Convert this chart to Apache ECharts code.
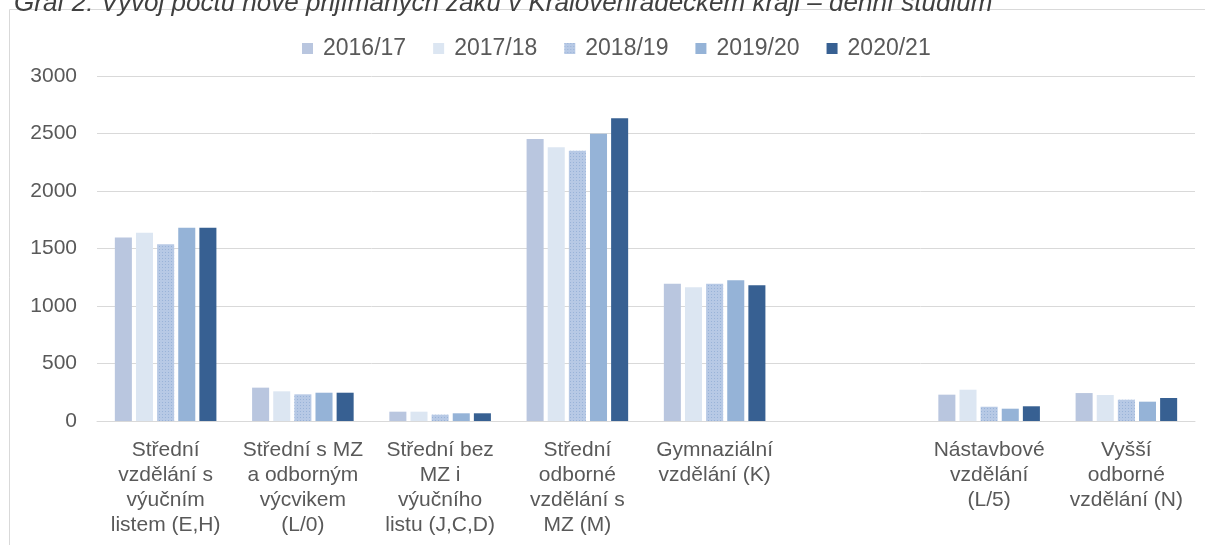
<!DOCTYPE html>
<html><head><meta charset="utf-8">
<script src="https://cdn.jsdelivr.net/npm/echarts@6/dist/echarts.min.js"></script>
<style>html,body{margin:0;padding:0;background:#fff}#c{width:1205px;height:545px}</style>
</head><body><div id="c"></div>
<script>
const titleText = 'Graf 2: Vývoj počtu nově přijímaných žáků v Královéhradeckém kraji – denní studium';
const categories = [
  'Střední\nvzdělání s\nvýučním\nlistem (E,H)',
  'Střední s MZ\na odborným\nvýcvikem\n(L/0)',
  'Střední bez\nMZ i\nvýučního\nlistu (J,C,D)',
  'Střední\nodborné\nvzdělání s\nMZ (M)',
  'Gymnaziální\nvzdělání (K)',
  '',
  'Nástavbové\nvzdělání\n(L/5)',
  'Vyšší\nodborné\nvzdělání (N)'
];
const seriesNames = ['2016/17', '2017/18', '2018/19', '2019/20', '2020/21'];
const v2016 = [1595, 290, 81, 2452, 1194, null, 229, 243];
const v2017 = [1637, 258, 81, 2380, 1163, null, 272, 226];
const v2018 = [1536, 232, 55, 2350, 1194, null, 124, 185];
const v2019 = [1681, 246, 67, 2498, 1223, null, 107, 168];
const v2020 = [1681, 246, 67, 2632, 1180, null, 128, 200];
const yTicks = [0, 500, 1000, 1500, 2000, 2500, 3000];

const colors = ['#b9c6df', '#dce6f2', '#b7c9e5', '#95b3d7', '#376092'];
const values = [v2016, v2017, v2018, v2019, v2020];

const chart = echarts.init(document.getElementById('c'), null, {renderer: 'canvas'});
const series = seriesNames.map((n, i) => ({
  name: n,
  type: 'bar',
  data: values[i],
  barGap: '24%',
  barCategoryGap: '26%',
  itemStyle: Object.assign({color: colors[i]}, i === 2 ? {
    decal: {symbol: 'rect', symbolSize: 1, dashArrayX: [1, 2], dashArrayY: [1, 2], color: 'rgba(130,160,205,0.55)'}
  } : {}),
  emphasis: {disabled: true}
}));

chart.setOption({
  animation: false,
  color: colors,
  graphic: [
    {type: 'rect', shape: {x: 9.5, y: 9.5, width: 1400, height: 700}, style: {fill: 'none', stroke: '#d9d9d9', lineWidth: 1}, silent: true},
    {type: 'text', x: 14, y: 17, style: {text: titleText, font: 'italic 26px "Liberation Sans"', fill: '#404040', verticalAlign: 'bottom', align: 'left'}, silent: true}
  ],
  legend: {
    left: 302, top: 37, padding: 0,
    itemWidth: 11, itemHeight: 11, itemGap: 27,
    icon: 'rect',
    textStyle: {fontFamily: 'Liberation Sans', fontSize: 23, color: '#595959', padding: [0, 0, 0, 5]},
    data: seriesNames
  },
  grid: {left: 97, right: 10, top: 76, bottom: 124, containLabel: false},
  xAxis: {
    type: 'category',
    data: categories,
    axisLine: {lineStyle: {color: '#d9d9d9', width: 1}},
    axisTick: {show: false},
    axisLabel: {interval: 0, margin: 17, color: '#595959', fontFamily: 'Liberation Sans', fontSize: 21, lineHeight: 25, align: 'center'}
  },
  yAxis: {
    type: 'value',
    min: yTicks[0], max: yTicks[yTicks.length - 1], interval: 500,
    axisLine: {show: false},
    axisTick: {show: false},
    splitLine: {lineStyle: {color: '#d9d9d9', width: 1}},
    axisLabel: {margin: 20, color: '#595959', fontFamily: 'Liberation Sans', fontSize: 21, formatter: v => String(v)}
  },
  series: series
});
</script></body></html>
